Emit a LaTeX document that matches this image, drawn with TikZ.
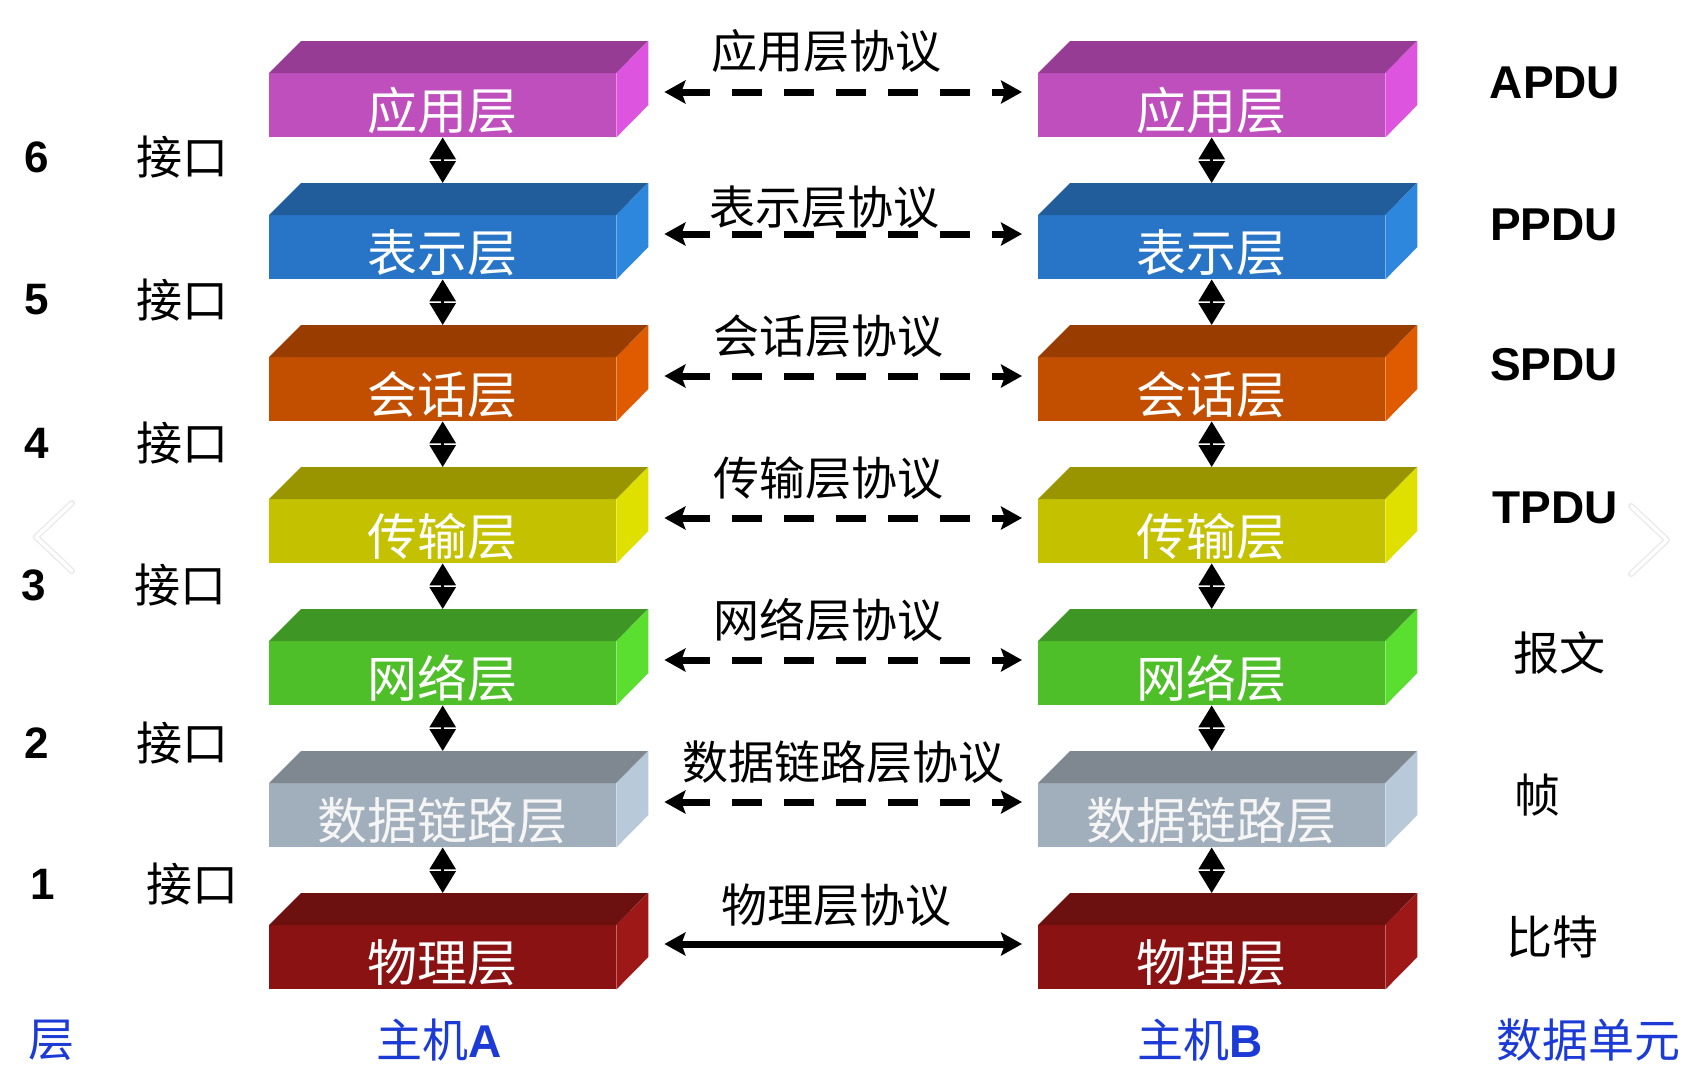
\documentclass[tikz,border=0pt]{standalone}
\usepackage{fontspec}
\setmainfont{Liberation Sans}
\newfontfamily\cjk{Noto Sans CJK SC}
\usetikzlibrary{arrows.meta,calc}

\definecolor{apF}{RGB}{192,79,190}\definecolor{apT}{RGB}{150,60,148}\definecolor{apS}{RGB}{221,85,222}
\definecolor{prF}{RGB}{40,117,199}\definecolor{prT}{RGB}{33,92,155}\definecolor{prS}{RGB}{45,135,220}
\definecolor{seF}{RGB}{194,79,0}\definecolor{seT}{RGB}{152,60,0}\definecolor{seS}{RGB}{224,90,0}
\definecolor{trF}{RGB}{196,193,0}\definecolor{trT}{RGB}{153,149,0}\definecolor{trS}{RGB}{224,224,0}
\definecolor{neF}{RGB}{78,191,40}\definecolor{neT}{RGB}{62,150,36}\definecolor{neS}{RGB}{90,222,48}
\definecolor{dlF}{RGB}{161,174,187}\definecolor{dlT}{RGB}{127,135,145}\definecolor{dlS}{RGB}{184,201,218}
\definecolor{phF}{RGB}{138,18,18}\definecolor{phT}{RGB}{108,16,16}\definecolor{phS}{RGB}{158,24,24}
\definecolor{lblblue}{RGB}{28,58,214}

\newcommand\layerbox[6]{%
  \node[frontface, fill=#3, anchor=north west] (#1) at #2 {#6};
  \fill[#4] (#1.north west) -- ++(32,-32) -- ++(347,0) -- (#1.north east) -- cycle;
  \fill[#5] (#1.north east) -- ++(32,-32) -- ++(0,64) -- (#1.south east) -- cycle;
}

\tikzset{
  frontface/.style={draw=none, inner sep=0pt, minimum width=347pt,
    text height=56pt, text depth=8pt, text=white,
    font=\cjk\fontsize{50}{50}\selectfont},
  vconn/.style={line width=3pt,
    {Stealth[length=22pt,width=26pt,inset=0pt]}-{Stealth[length=22pt,width=26pt,inset=0pt]}},
  proto/.style={line width=7pt,
    {Stealth[length=21pt,width=23pt,inset=4pt]}-{Stealth[length=21pt,width=23pt,inset=4pt]}},
  dashedproto/.style={proto, dash pattern=on 30pt off 22pt},
  plabel/.style={inner sep=0pt, font=\cjk\fontsize{46}{46}\selectfont},
  numlab/.style={inner sep=0pt, font=\bfseries\fontsize{44}{44}\selectfont},
  ifacelab/.style={inner sep=0pt, font=\cjk\fontsize{46}{46}\selectfont},
  pdulab/.style={inner sep=0pt, font=\bfseries\fontsize{46}{46}\selectfont},
  unitlab/.style={inner sep=0pt, font=\cjk\fontsize{46}{46}\selectfont},
  bottomlab/.style={inner sep=0pt, text=lblblue, font=\cjk\fontsize{46}{46}\selectfont},
  chev/.style={line width=#1, line cap=round, line join=round},
}

\begin{document}
\begin{tikzpicture}[x=1pt, y=-1pt]
\useasboundingbox (0,0) rectangle (1699,1079);
\fill[white] (0,0) rectangle (1699,1079);

% faint carousel chevrons
\draw[chev=6pt, gray!18] (72,503) -- (36,537) -- (72,571);
\draw[chev=3.5pt, white] (72,503) -- (36,537) -- (72,571);
\draw[chev=6pt, gray!18] (1631,506) -- (1667,540) -- (1631,574);
\draw[chev=3.5pt, white] (1631,506) -- (1667,540) -- (1631,574);

% host A
\layerbox{A1}{(269,73)}{apF}{apT}{apS}{应用层}
\layerbox{A2}{(269,215)}{prF}{prT}{prS}{表示层}
\layerbox{A3}{(269,357)}{seF}{seT}{seS}{会话层}
\layerbox{A4}{(269,499)}{trF}{trT}{trS}{传输层}
\layerbox{A5}{(269,641)}{neF}{neT}{neS}{网络层}
\layerbox{A6}{(269,783)}{dlF}{dlT}{dlS}{\textcolor{white!92!gray}{数据链路层}}
\layerbox{A7}{(269,925)}{phF}{phT}{phS}{物理层}
% host B
\layerbox{B1}{(1038,73)}{apF}{apT}{apS}{应用层}
\layerbox{B2}{(1038,215)}{prF}{prT}{prS}{表示层}
\layerbox{B3}{(1038,357)}{seF}{seT}{seS}{会话层}
\layerbox{B4}{(1038,499)}{trF}{trT}{trS}{传输层}
\layerbox{B5}{(1038,641)}{neF}{neT}{neS}{网络层}
\layerbox{B6}{(1038,783)}{dlF}{dlT}{dlS}{\textcolor{white!92!gray}{数据链路层}}
\layerbox{B7}{(1038,925)}{phF}{phT}{phS}{物理层}

% vertical interfaces
\foreach \h in {A,B}{
  \foreach \i [evaluate=\i as \j using int(\i+1)] in {1,...,6}{
    \draw[vconn] (\h\i.south) -- ($(\h\j.north)+(0,-32)$);
  }
}

% peer protocols
\foreach \i in {1,...,6}{
  \draw[dashedproto] ($(A\i.north east)+(48,19)$) -- ($(B\i.north west)+(-16,19)$);
}
\draw[proto] ($(A7.north east)+(48,19)$) -- ($(B7.north west)+(-16,19)$);

\node[plabel] (p1) at (826,51) {应用层协议};
\node[plabel] (p2) at (824,207) {表示层协议};
\node[plabel] (p3) at (828,336) {会话层协议};
\node[plabel] (p4) at (828,478) {传输层协议};
\node[plabel] (p5) at (828,620) {网络层协议};
\node[plabel] (p6) at (843,762) {数据链路层协议};
\node[plabel] (p7) at (836,905) {物理层协议};

% layer numbers and interfaces
\node[numlab] (n6) at (37,157) {6};
\node[numlab] (n5) at (37,300) {5};
\node[numlab] (n4) at (37,443) {4};
\node[numlab] (n3) at (34,585) {3};
\node[numlab] (n2) at (37,743) {2};
\node[numlab] (n1) at (43,884) {1};
\node[ifacelab] (i6) at (182,157) {接口};
\node[ifacelab] (i5) at (182,300) {接口};
\node[ifacelab] (i4) at (182,443) {接口};
\node[ifacelab] (i3) at (180,585) {接口};
\node[ifacelab] (i2) at (182,743) {接口};
\node[ifacelab] (i1) at (192,884) {接口};

% data units
\node[pdulab] (u1) at (1555,83) {APDU};
\node[pdulab] (u2) at (1554,225) {PPDU};
\node[pdulab] (u3) at (1554,365) {SPDU};
\node[pdulab] (u4) at (1555,508) {TPDU};
\node[unitlab] (u5) at (1559,653) {报文};
\node[unitlab] (u6) at (1537,795) {帧};
\node[unitlab] (u7) at (1552,937) {比特};

% bottom captions
\node[bottomlab] (c1) at (51,1040) {层};
\node[bottomlab] (c2) at (439,1040) {主机{\bfseries\rmfamily A}};
\node[bottomlab] (c3) at (1200,1040) {主机{\bfseries\rmfamily B}};
\node[bottomlab] (c4) at (1588,1040) {数据单元};
\end{tikzpicture}
\end{document}
